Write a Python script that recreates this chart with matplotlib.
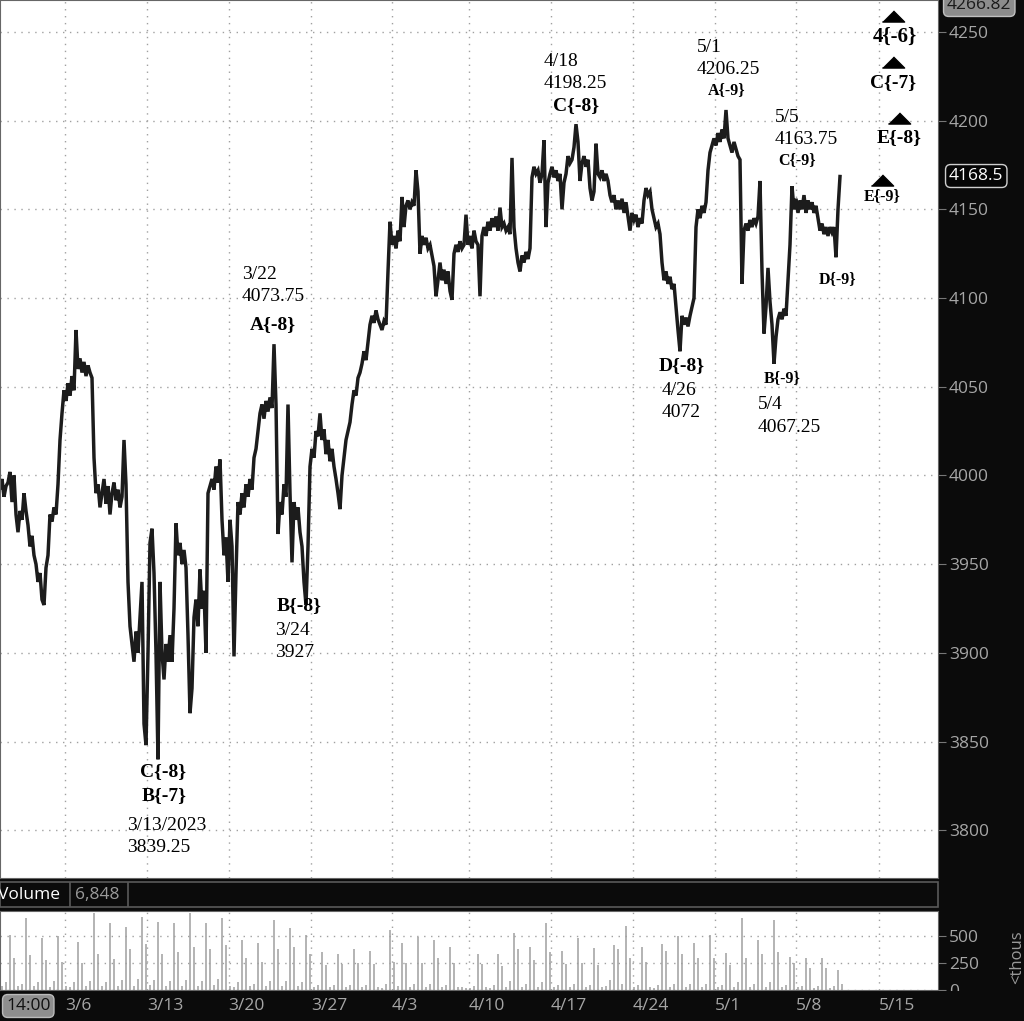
import numpy as np
import matplotlib
matplotlib.use("Agg")
import matplotlib.pyplot as plt
from matplotlib.patches import Rectangle

plt.rcParams['font.family'] = ['Open Sans', 'DejaVu Sans']

# --- data ------------------------------------------------------------------
# price bars, one value per bar, 2/28 .. 5/11
closes = [
    3993, 3998, 3988, 3994, 3996, 4002, 3985, 4000, 3978, 3968,
    3980, 3975, 3990, 3980, 3972, 3960, 3966, 3955, 3950, 3940,
    3945, 3930, 3927, 3948, 3955, 3978, 3974, 3982, 3978, 3995,
    4020, 4035, 4048, 4042, 4052, 4045, 4056, 4048, 4082, 4060,
    4066, 4058, 4064, 4056, 4062, 4058, 4055, 4010, 3990, 3995,
    3982, 3990, 3998, 3984, 3994, 3978, 3990, 3996, 3986, 3992,
    3982, 3988, 4020, 3995, 3940, 3915, 3905, 3895, 3912, 3900,
    3920, 3940, 3860, 3848, 3900, 3962, 3970, 3945, 3900, 3840,
    3940, 3900, 3885, 3905, 3895, 3910, 3895, 3925, 3973, 3955,
    3962, 3950, 3958, 3948, 3910, 3866, 3880, 3920, 3930, 3915,
    3947, 3925, 3935, 3900, 3990, 3994, 3998, 3992, 4005, 3996,
    4009, 3975, 3955, 3965, 3940, 3975, 3960, 3898, 3945, 3985,
    3978, 3990, 3982, 3995, 3988, 3998, 3992, 4010, 4015, 4025,
    4035, 4040, 4032, 4042, 4036, 4044, 4038, 4074, 4040, 3967,
    3985, 3978, 3995, 3988, 4040, 3990, 3951, 3985, 3975, 3982,
    3968, 3960, 3940, 3927, 3960, 4005, 4015, 4010, 4025, 4022,
    4035, 4020, 4026, 4012, 4020, 4008, 4015, 4005, 3998, 3990,
    3981, 4000, 4010, 4020, 4025, 4030, 4040, 4048, 4045, 4055,
    4058, 4063, 4070, 4065, 4075, 4085, 4090, 4086, 4093, 4088,
    4085, 4082, 4087, 4085, 4115, 4143, 4130, 4135, 4128, 4138,
    4132, 4157, 4140, 4152, 4155, 4150, 4154, 4152, 4172, 4160,
    4125, 4135, 4130, 4134, 4128, 4130, 4124, 4118, 4101, 4110,
    4120, 4110, 4116, 4108, 4115, 4104, 4099, 4125, 4130, 4126,
    4132, 4128, 4130, 4147, 4130, 4135, 4128, 4138, 4132, 4130,
    4101, 4135, 4140, 4135, 4143, 4138, 4145, 4140, 4146, 4138,
    4151, 4140, 4142, 4138, 4140, 4136, 4179, 4140, 4128, 4120,
    4115, 4124, 4120, 4126, 4122, 4128, 4168, 4174, 4170, 4172,
    4165, 4170, 4189, 4140, 4165, 4170, 4174, 4168, 4172, 4166,
    4170, 4150, 4165, 4170, 4180, 4176, 4178, 4185, 4198, 4188,
    4166, 4176, 4180, 4174, 4178, 4162, 4155, 4160, 4187, 4170,
    4168, 4172, 4166, 4170, 4166, 4158, 4154, 4158, 4150, 4155,
    4150, 4156, 4148, 4154, 4146, 4138, 4148, 4144, 4147, 4140,
    4145, 4142, 4155, 4162, 4158, 4160, 4150, 4145, 4140, 4142,
    4136, 4120, 4110, 4115, 4108, 4112, 4105, 4108, 4095, 4082,
    4070, 4090, 4085, 4089, 4084, 4090, 4095, 4100, 4140, 4150,
    4145, 4152, 4148, 4154, 4172, 4182, 4186, 4190, 4186, 4193,
    4188, 4195, 4190, 4206, 4190, 4186, 4182, 4188, 4184, 4180,
    4178, 4108, 4138, 4142, 4138, 4144, 4140, 4145, 4142, 4146,
    4166, 4115, 4080, 4095, 4117, 4098, 4085, 4063, 4078, 4088,
    4092, 4088, 4094, 4090, 4110, 4130, 4163, 4150, 4156, 4148,
    4155, 4150, 4158, 4148, 4155, 4150, 4154, 4148, 4152, 4145,
    4138, 4142, 4136, 4140, 4135, 4140, 4137, 4140, 4123, 4150,
    4168.5,
]

# volume in thousands, one value per pair of price bars
volume = [
    40, 70, 509, 300, 40, 60, 667, 320, 35, 70,
    480, 280, 30, 80, 500, 260, 40, 25, 70, 444,
    250, 40, 80, 713, 330, 40, 70, 620, 290, 35,
    90, 583, 380, 40, 100, 676, 430, 45, 90, 630,
    330, 40, 80, 620, 350, 40, 90, 713, 400, 40,
    80, 620, 380, 45, 100, 667, 420, 40, 25, 70,
    463, 300, 35, 60, 435, 260, 35, 80, 648, 380,
    40, 80, 574, 400, 40, 70, 509, 330, 30, 50,
    352, 230, 30, 50, 336, 240, 25, 50, 377, 250,
    25, 50, 358, 240, 25, 20, 60, 556, 260, 40,
    436, 250, 30, 60, 490, 250, 30, 60, 462, 300,
    30, 50, 399, 250, 30, 25, 20, 20, 40, 336,
    240, 25, 20, 50, 336, 220, 25, 80, 524, 380,
    30, 60, 399, 280, 25, 70, 619, 350, 30, 50,
    361, 240, 30, 60, 477, 250, 25, 50, 389, 230,
    25, 40, 90, 414, 380, 60, 593, 300, 30, 50,
    399, 260, 25, 20, 50, 424, 360, 25, 60, 499,
    330, 30, 60, 436, 300, 25, 60, 509, 300, 25,
    50, 343, 230, 25, 70, 667, 300, 25, 60, 463,
    330, 30, 70, 648, 350, 30, 50, 305, 250, 25,
    40, 296, 200, 20, 40, 296, 200, 20, 40, 185,
    60,
]

date_ticks = [32.5, 73.5, 114.25, 155.5, 196, 234.5, 275.5, 316.25, 357.5, 398, 439.5]
date_labels = ["3/6", "3/13", "3/20", "3/27", "4/3", "4/10", "4/17", "4/24", "5/1", "5/8", "5/15"]
price_ticks = [3800, 3850, 3900, 3950, 4000, 4050, 4100, 4150, 4200, 4250]
vol_ticks = [0, 250, 500]
last_price = 4168.5
range_high = 4266.82
last_volume = "6,848"

# --- layout ----------------------------------------------------------------
W, H = 1024, 1021
BG = "#0b0b0b"
AXC = "#a6a6a6"
fig = plt.figure(figsize=(W / 100, H / 100), dpi=100, facecolor=BG)


def fx(px):
    return px / W


def fy(py):
    return (H - py) / H


ax = fig.add_axes([0, fy(878), fx(938), (878) / H])
axv = fig.add_axes([0, fy(990), fx(938), (990 - 911) / H])

grid_kw = dict(color="#a0a0a0", linestyle=(0, (1, 4)), linewidth=1.0)

bars = np.arange(len(closes))
ax.plot(bars, closes, color="#1c1c1c", lw=2.5, solid_joinstyle="miter")
ax.set_xlim(0, 469)
ax.set_ylim(3773.1, 4268)
ax.set_xticks(date_ticks)
ax.set_yticks(price_ticks)
ax.grid(True, **grid_kw)
ax.tick_params(axis="x", length=0, labelbottom=False)
ax.yaxis.tick_right()
ax.tick_params(axis="y", colors="#777777", labelcolor=AXC, length=6, pad=2, labelsize=12.5)
for s in ax.spines.values():
    s.set_color("#666666")

vx = np.arange(len(volume)) * 2 + 1
axv.bar(vx, volume, width=1.1, color="#b5b5b5", linewidth=0)
axv.set_xlim(0, 469)
axv.set_ylim(0, 731)
axv.set_yticks(vol_ticks)
axv.set_xticks(date_ticks)
axv.set_xticklabels(date_labels)
axv.grid(True, **grid_kw)
axv.yaxis.tick_right()
axv.tick_params(axis="y", colors="#777777", labelcolor=AXC, length=6, pad=2, labelsize=12.5)
axv.tick_params(axis="x", length=0, labelcolor=AXC, labelsize=12.5, pad=6)
for lab in axv.get_xticklabels():
    lab.set_horizontalalignment("left")
for s in axv.spines.values():
    s.set_color("#666666")

# cover the lower half of the "0" label like the reference
fig.add_artist(Rectangle((fx(938), 0), 1, fy(991), transform=fig.transFigure,
                         facecolor=BG, edgecolor="none", zorder=5))

# volume header band
fig.add_artist(Rectangle((0, fy(907)), fx(938), (907 - 882) / H, transform=fig.transFigure,
                         facecolor=BG, edgecolor="#5a5a5a", lw=1.2, zorder=3))
for px in (70, 128):
    fig.add_artist(plt.Line2D([fx(px), fx(px)], [fy(906), fy(883)], transform=fig.transFigure,
                              color="#5a5a5a", lw=1.2, zorder=4))
fig.text(fx(-2), fy(895), "Volume", color="white", fontsize=12.5, va="center", ha="left", zorder=6)
fig.text(fx(75), fy(895), last_volume, color="#9a9a9a", fontsize=12.5, va="center", ha="left", zorder=6)

# time box bottom left
fig.text(fx(6), fy(1006), "14:00", color="#111111", fontsize=12.5, va="center", ha="left", zorder=6,
         bbox=dict(boxstyle="round,pad=0.2,rounding_size=0.3", facecolor="#8e8e8e", edgecolor="#bbbbbb"))

# price boxes on the right axis (the top one is cut by the edge, as in the source)
fig.text(fx(947), fy(5), f"{range_high:.2f}", color="#1a1a1a", fontsize=12.5, va="center", ha="left",
         zorder=6, bbox=dict(boxstyle="round,pad=0.2,rounding_size=0.3", facecolor="#8c8c8c", edgecolor="#c0c0c0"))
fig.text(fx(949), fy(176), f"{last_price}", color="white", fontsize=12.5, va="center", ha="left",
         zorder=6, bbox=dict(boxstyle="round,pad=0.2,rounding_size=0.3", facecolor="#050505", edgecolor="#cfcfcf"))
fig.text(fx(1017), fy(957), "<thous", color="#9a9a9a", fontsize=12, rotation=90, va="center", ha="center")

# --- wave annotations ------------------------------------------------------
serif = "Liberation Serif"
notes = [
    # text, bar, price, size, bold, ha
    ("3/22", 121, 4113.0, 14, False, "left"),
    ("4073.75", 121, 4100.6, 14, False, "left"),
    ("A{-8}", 136.5, 4085.3, 14, True, "center"),
    ("B{-8}", 149.5, 3926.9, 14, True, "center"),
    ("3/24", 137.5, 3912.8, 14, False, "left"),
    ("3927", 137.5, 3900.4, 14, False, "left"),
    ("C{-8}", 81.5, 3833.3, 14, True, "center"),
    ("B{-7}", 82, 3819.7, 14, True, "center"),
    ("3/13/2023", 63.5, 3802.8, 14, False, "left"),
    ("3839.25", 63.5, 3790.4, 14, False, "left"),
    ("4/18", 272, 4233.1, 14, False, "left"),
    ("4198.25", 272, 4220.7, 14, False, "left"),
    ("C{-8}", 288, 4208.3, 14, True, "center"),
    ("5/1", 348.5, 4241.0, 14, False, "left"),
    ("4206.25", 348.5, 4228.6, 14, False, "left"),
    ("A{-9}", 363.5, 4217.3, 11.5, True, "center"),
    ("5/5", 387.5, 4201.5, 14, False, "left"),
    ("4163.75", 387.5, 4189.1, 14, False, "left"),
    ("C{-9}", 398.5, 4177.8, 11.5, True, "center"),
    ("D{-8}", 341, 4061.7, 14, True, "center"),
    ("4/26", 331, 4048.1, 14, False, "left"),
    ("4072", 331, 4035.7, 14, False, "left"),
    ("B{-9}", 391, 4054.9, 11.5, True, "center"),
    ("5/4", 379, 4040.2, 14, False, "left"),
    ("4067.25", 379, 4027.3, 14, False, "left"),
    ("D{-9}", 419, 4110.7, 11.5, True, "center"),
    ("4{-6}", 447.5, 4247.2, 15, True, "center"),
    ("C{-7}", 446.5, 4221.2, 14, True, "center"),
    ("E{-8}", 449.5, 4190.2, 14, True, "center"),
    ("E{-9}", 441, 4157.5, 11.5, True, "center"),
]
for txt, bx, py, size, bold, ha in notes:
    ax.text(bx, py, txt, family=serif, fontsize=size, fontweight="bold" if bold else "normal",
            ha=ha, va="center", color="black", zorder=4)

tri = [(-1, -0.5), (1, -0.5), (0, 0.5)]
for bx, py in [(446.5, 4259.0), (446.5, 4233.1), (449.5, 4201.5), (441, 4166.5)]:
    ax.plot([bx], [py], marker=tri, markersize=16, color="black", linestyle="none", zorder=4)

fig.savefig("out.png", dpi=100, facecolor=BG)
